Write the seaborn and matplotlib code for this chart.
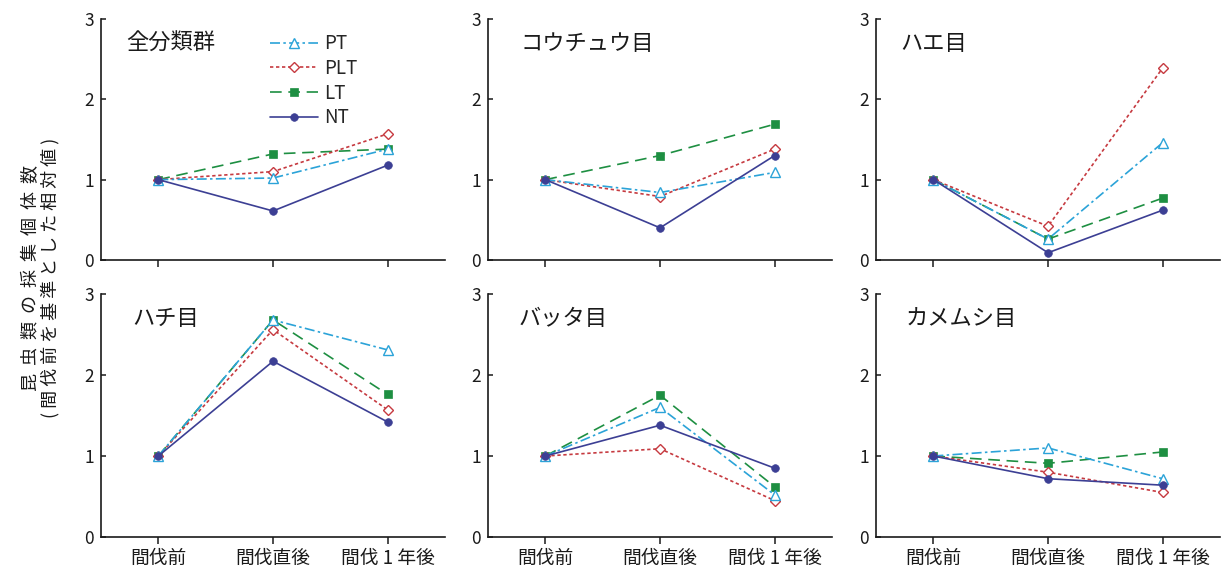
import matplotlib
matplotlib.use("Agg")
import matplotlib.pyplot as plt
import pandas as pd
import seaborn as sns

# Sampling periods (x-axis categories)
periods = ["間伐前", "間伐直後", "間伐 1 年後"]

# Taxon groups, one panel each
groups = ["全分類群", "コウチュウ目", "ハエ目", "ハチ目", "バッタ目", "カメムシ目"]

# Relative abundance (pre-thinning = 1) per treatment, per taxon group
pt_values = [
    [1.00, 1.02, 1.38],
    [1.00, 0.84, 1.09],
    [1.00, 0.26, 1.46],
    [1.00, 2.68, 2.31],
    [1.00, 1.60, 0.52],
    [1.00, 1.10, 0.72],
]
plt_values = [
    [1.00, 1.10, 1.57],
    [1.00, 0.79, 1.38],
    [1.00, 0.42, 2.39],
    [1.00, 2.56, 1.57],
    [1.00, 1.09, 0.45],
    [1.00, 0.80, 0.55],
]
lt_values = [
    [1.00, 1.32, 1.38],
    [1.00, 1.30, 1.69],
    [1.00, 0.26, 0.77],
    [1.00, 2.68, 1.76],
    [1.00, 1.75, 0.62],
    [1.00, 0.91, 1.05],
]
nt_values = [
    [1.00, 0.61, 1.18],
    [1.00, 0.40, 1.30],
    [1.00, 0.09, 0.62],
    [1.00, 2.17, 1.42],
    [1.00, 1.38, 0.85],
    [1.00, 0.72, 0.64],
]

treatments = ["PT", "PLT", "LT", "NT"]
series_values = {"PT": pt_values, "PLT": plt_values, "LT": lt_values, "NT": nt_values}

# Y-axis caption, two lines
ylabel_main = "昆虫類の採集個体数"
ylabel_sub = "(間伐前を基準とした相対値)"

# Line styling per treatment
styles = {
    "PT": dict(color="#2ba3d8", linestyle=(0, (6, 2, 1.5, 2)), marker="^",
               markersize=6.5, markerfacecolor="white", markeredgecolor="#2ba3d8",
               markeredgewidth=1.0),
    "PLT": dict(color="#c63a40", linestyle=(0, (2, 1.6)), marker="D",
                markersize=5.2, markerfacecolor="white", markeredgecolor="#c63a40",
                markeredgewidth=1.0),
    "LT": dict(color="#1e8f42", linestyle=(0, (7, 4)), marker="s",
               markersize=5.2, markerfacecolor="#1e8f42", markeredgecolor="#1e8f42",
               markeredgewidth=0.5),
    "NT": dict(color="#3c3f94", linestyle="-", marker="o",
               markersize=5.5, markerfacecolor="#3c3f94", markeredgecolor="#3c3f94",
               markeredgewidth=0.5),
}

sns.set_theme(style="ticks")
plt.rcParams["font.family"] = ["Noto Sans CJK JP", "DejaVu Sans"]
plt.rcParams["axes.unicode_minus"] = False

fig = plt.figure(figsize=(12.29, 5.71), dpi=100)

lefts = [0.0822, 0.3971, 0.7128]
width = 0.2799
rows = [(0.5447, 0.4221), (0.0595, 0.4256)]
title_x = [0.073, 0.093, 0.07, 0.09, 0.09, 0.087]

for gi, group in enumerate(groups):
    r, c = divmod(gi, 3)
    bottom, height = rows[r]
    ax = fig.add_axes([lefts[c], bottom, width, height])

    for name in ["LT", "PLT", "PT", "NT"]:
        df = pd.DataFrame({"period": periods, "value": series_values[name][gi]})
        sns.lineplot(data=df, x="period", y="value", ax=ax, sort=False,
                     linewidth=1.2, label=name, **styles[name])

    ax.set_xlim(-0.5, 2.5)
    ax.set_ylim(0, 3)
    ax.set_yticks([0, 1, 2, 3])
    ax.set_xlabel("")
    ax.set_ylabel("")
    sns.despine(ax=ax)
    for side in ["left", "bottom"]:
        ax.spines[side].set_linewidth(1.2)
        ax.spines[side].set_color("#1a1a1a")
    ax.tick_params(axis="y", direction="in", length=3.5, width=1.1, pad=5,
                   labelsize=12.5, colors="#1a1a1a")
    ax.tick_params(axis="x", direction="out", length=5, width=1.1, pad=3,
                   labelsize=13.5, colors="#1a1a1a")
    if r == 0:
        ax.set_xticklabels([])

    ax.text(title_x[gi], 0.90, group, transform=ax.transAxes, fontsize=16,
            ha="left", va="center", color="#1a1a1a")

    leg = ax.get_legend()
    if leg is not None:
        leg.remove()
    if gi == 0:
        handles, labels = ax.get_legend_handles_labels()
        order = [labels.index(t) for t in treatments]
        ax.legend([handles[i] for i in order], [labels[i] for i in order],
                  loc="upper left", bbox_to_anchor=(0.49, 0.94), frameon=False,
                  fontsize=13.5, handlelength=2.6, handletextpad=0.3,
                  labelspacing=0.19, borderpad=0, borderaxespad=0)

# Two-line vertical caption, letter-spaced
fig.text(0.025, 0.513, "  ".join(ylabel_main), rotation=90, ha="center",
         va="center", fontsize=13, color="#1a1a1a")
fig.text(0.041, 0.513, " ".join(ylabel_sub), rotation=90, ha="center",
         va="center", fontsize=13, color="#1a1a1a")

fig.savefig("out.png", dpi=100)
